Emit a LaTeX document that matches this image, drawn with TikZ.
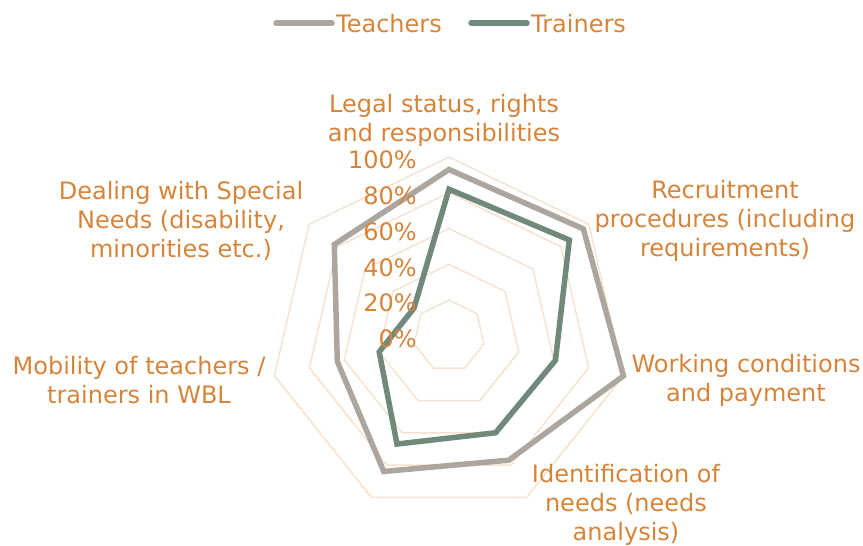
\documentclass[tikz,border=0pt]{standalone}
\usepackage{fontspec}
\setmainfont{DejaVu Sans}
\usetikzlibrary{positioning}

\definecolor{labelorange}{HTML}{D5843A}
\definecolor{teachergray}{HTML}{ADA69E}
\definecolor{trainergreen}{HTML}{71897A}
\definecolor{gridpeach}{HTML}{F7E2CF}

\tikzset{
  axislabel/.style={text=labelorange, align=center,
    font=\fontsize{24}{29}\selectfont, inner sep=0pt},
  pctlabel/.style={text=labelorange, anchor=east,
    font=\fontsize{24}{29}\selectfont, inner sep=0pt},
  gridring/.style={color=gridpeach, line width=1.5},
  teacherline/.style={color=teachergray, line width=5.5},
  trainerline/.style={color=trainergreen, line width=5.5},
}

\begin{document}
\begin{tikzpicture}[x=1pt, y=1pt]

\useasboundingbox (0,0) rectangle (863,546);

% legend
\coordinate (tA) at (276,523);
\coordinate (tB) at (332,523);
\coordinate (rA) at (471,523);
\coordinate (rB) at (527,523);
\draw[teacherline, line cap=round] (tA)--(tB);
\draw[trainerline, line cap=round] (rA)--(rB);
\node[axislabel, anchor=west] (legteach) at (336,522) {Teachers};
\node[axislabel, anchor=west] (legtrain) at (531,522) {Trainers};

\begin{scope}[shift={(449,210)}]

% rings at 20% ... 100%
\foreach \r in {35.8,71.6,107.4,143.2,179}
  \draw[gridring] (90:\r) -- (38.571:\r) -- (-12.857:\r) -- (-64.286:\r)
    -- (-115.714:\r) -- (-167.143:\r) -- (141.429:\r) -- cycle;

\draw[teacherline] (90:{0.93*179}) -- (38.571:{0.96*179})
  -- (-12.857:{1.0*179}) -- (-64.286:{0.77*179}) -- (-115.714:{0.84*179})
  -- (-167.143:{0.64*179}) -- (141.429:{0.82*179}) -- cycle;

\draw[trainerline] (90:{0.82*179}) -- (38.571:{0.86*179})
  -- (-12.857:{0.61*179}) -- (-64.286:{0.60*179}) -- (-115.714:{0.67*179})
  -- (-167.143:{0.40*179}) -- (141.429:{0.25*179}) -- cycle;

\foreach \p/\t in {0/0\%,20/20\%,40/40\%,60/60\%,80/80\%,100/100\%}
  \node[pctlabel] (pct\p) at (-32,{\p*1.79-3}) {\t};

\end{scope}

% axis names
\node[axislabel] (legal) at (444,426) {Legal status, rights\\and responsibilities};
\node[axislabel] (recruit) at (725,325) {Recruitment\\procedures (including\\requirements)};
\node[axislabel] (working) at (746,166) {Working conditions\\and payment};
\node[axislabel] (needs) at (626,41) {Identification of\\needs (needs\\analysis)};
\node[axislabel] (mobility) at (139,166) {Mobility of teachers /\\trainers in WBL};
\node[axislabel] (special) at (181,325) {Dealing with Special\\Needs (disability,\\minorities etc.)};

\end{tikzpicture}
\end{document}
